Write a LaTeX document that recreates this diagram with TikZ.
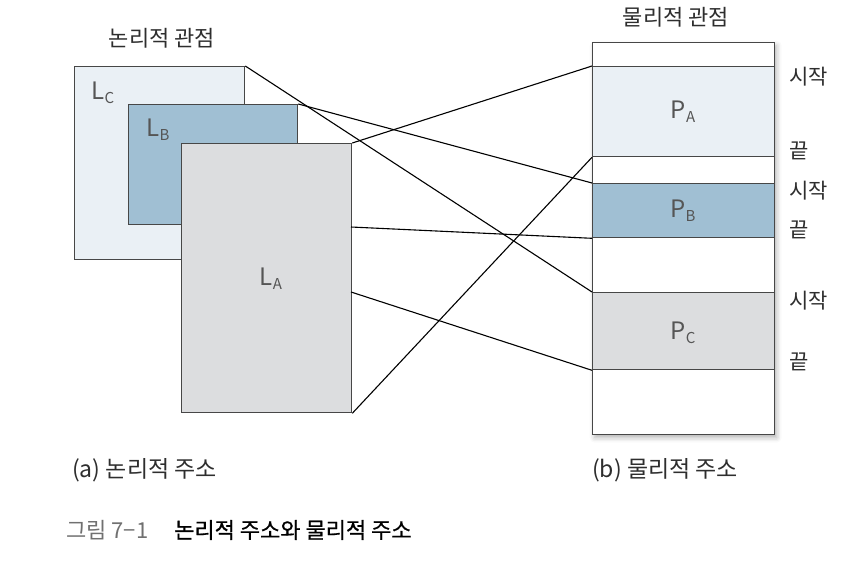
\documentclass[tikz,border=0pt]{standalone}
\usepackage{fontspec}
\setmainfont{Noto Sans CJK KR}
\newfontfamily\medfont[FakeBold=0.7]{Noto Sans CJK KR}
\usetikzlibrary{shadows.blur}
\definecolor{lightc}{HTML}{EAF0F5}
\definecolor{midb}{HTML}{A0BFD3}
\definecolor{grayA}{HTML}{DCDDDF}
\definecolor{edge}{HTML}{474747}
\definecolor{txt}{HTML}{2E2E2E}
\definecolor{ltxt}{HTML}{555555}
\definecolor{captg}{HTML}{707070}
\begin{document}
\begin{tikzpicture}[x=1pt,y=-1pt,
  box/.style={draw=edge, line width=1.3pt, inner sep=0pt, anchor=north west},
  conn/.style={line width=1.1pt, black},
  lbl/.style={font=\fontsize{22}{26}\selectfont, text=txt, inner sep=0pt},
  side/.style={font=\fontsize{21}{25}\selectfont, text=txt, inner sep=0pt, anchor=west},
  capt/.style={font=\fontsize{23}{27}\selectfont, text=txt, inner sep=0pt, anchor=west},
  big/.style={font=\fontsize{24}{28}\selectfont, text=ltxt, inner sep=0pt}]
\useasboundingbox (0,0) rectangle (868,576);
% logical boxes
\node[box, fill=lightc, minimum width=170pt, minimum height=193pt] (LC) at (74,66) {};
\node[box, fill=midb, minimum width=169pt, minimum height=120pt] (LB) at (128,104) {};
\node[box, fill=grayA, minimum width=170pt, minimum height=269pt] (LA) at (181,143) {};
\node[big] (tLC) at (103,93) {L\raisebox{-4pt}{\fontsize{15}{15}\selectfont C}};
\node[big] (tLB) at (158,130) {L\raisebox{-4pt}{\fontsize{15}{15}\selectfont B}};
\node[big] (tLA) at (271,279) {L\raisebox{-4pt}{\fontsize{15}{15}\selectfont A}};
% physical column
\node[box, fill=white, minimum width=182pt, minimum height=392pt,
  blur shadow={shadow xshift=2pt, shadow yshift=-3pt, shadow blur radius=5pt, shadow opacity=30}] (COL) at (592,42) {};
\coordinate (la1) at (351,227);
\coordinate (la2) at (351,292);
\node[box, fill=lightc, minimum width=182pt, minimum height=90pt] (PA) at (592,66) {};
\node[box, fill=midb, minimum width=182pt, minimum height=54pt] (PB) at (592,183) {};
\node[box, fill=grayA, minimum width=182pt, minimum height=77pt] (PC) at (592,292) {};
% connectors
\draw[conn] (LC.north east) -- (PC.north west);
\draw[conn] (LB.north east) -- (PB.north west);
\draw[conn] (LA.north east) -- (PA.north west);
\draw[conn] (la1) -- (PB.south west);
\draw[conn] (la2) -- (PC.south west);
\draw[conn] (LA.south east) -- (PA.south west);
\node[big] (tPA) at (683,112) {P\raisebox{-4pt}{\fontsize{15}{15}\selectfont A}};
\node[big] (tPB) at (683,211) {P\raisebox{-4pt}{\fontsize{15}{15}\selectfont B}};
\node[big] (tPC) at (683,333) {P\raisebox{-4pt}{\fontsize{15}{15}\selectfont C}};
% titles
\node[lbl] (t1) at (162,38) {논리적 관점};
\node[lbl] (t2) at (676,17) {물리적 관점};
% side labels
\node[side] (s1) at (789,77) {시작};
\node[side] (e1) at (789,151) {끝};
\node[side] (s2) at (789,191) {시작};
\node[side] (e2) at (789,230) {끝};
\node[side] (s3) at (789,301) {시작};
\node[side] (e3) at (789,362) {끝};
% captions
\node[capt] (ca) at (72,470) {(a) 논리적 주소};
\node[capt] (cb) at (592,470) {(b) 물리적 주소};
\node[capt, font=\fontsize{22}{26}\selectfont, text=captg] (fig) at (66,530) {그림 7−1};
\node[capt, font=\fontsize{22}{26}\selectfont\medfont, text=black] (figt) at (174,530) {논리적 주소와 물리적 주소};
\end{tikzpicture}
\end{document}
